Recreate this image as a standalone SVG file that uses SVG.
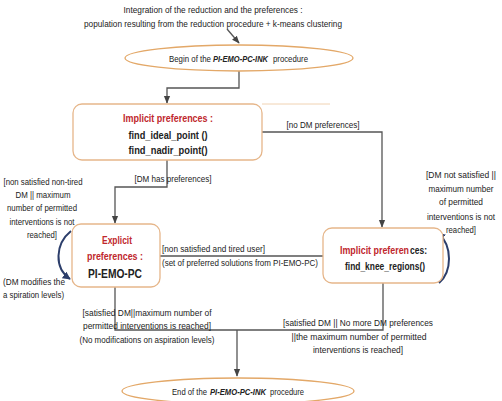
<svg xmlns="http://www.w3.org/2000/svg" width="502" height="401" viewBox="0 0 502 401">
<defs>
<style>
text{font-family:"Liberation Sans",Arial,sans-serif;fill:#222;}
.s{font-size:8.8px;}
.c{text-anchor:middle;}
.b{font-weight:bold;}
.i{font-style:italic;}
.r{fill:#c0272d;}
.box{fill:#fff;stroke:#e6b68a;stroke-width:1.3;}
.ell{fill:#fff;stroke:#e3a868;stroke-width:1.3;}
.ln{fill:none;stroke:#555;stroke-width:1.3;}
.cv{fill:none;stroke:#2c3e6b;stroke-width:2;}
</style>
<marker id="ah" viewBox="0 0 10 10" refX="9" refY="5" markerWidth="6" markerHeight="6" orient="auto"><path d="M0,1 L10,5 L0,9 z" fill="#444"/></marker>
<marker id="ahb" viewBox="0 0 10 10" refX="9" refY="5" markerWidth="4" markerHeight="4" orient="auto"><path d="M0,0 L10,5 L0,10 z" fill="#2c3e6b"/></marker>
</defs>
<rect width="502" height="401" fill="#fff"/>

<g id="intro">
<text class="s c" x="213" y="13" textLength="179" lengthAdjust="spacingAndGlyphs">Integration of the reduction and the preferences :</text>
<text class="s c" x="213" y="27" textLength="258" lengthAdjust="spacingAndGlyphs">population resulting from the reduction procedure + k-means clustering</text>
</g>

<g id="connectors">
<path class="ln" d="M227,29 L239,43" marker-end="url(#ah)"/>
<path class="ln" d="M239,71 V88 H167 V103" marker-end="url(#ah)"/>
<path class="ln" d="M262,132 H382 V227" marker-end="url(#ah)"/>
<path class="ln" d="M167,160 V187 H115 V223" marker-end="url(#ah)"/>
<path class="ln" d="M160,256 H323"/>
<path class="ln" d="M115,287 V330 H383 V283"/>
<path class="ln" d="M237,330 V376" marker-end="url(#ah)"/>
<path class="cv" d="M71,231 C55,244 54,268 70,279" marker-end="url(#ahb)"/>
<path class="cv" d="M439,283 C452,272 453,246 438,233" marker-end="url(#ahb)"/>
<line x1="262" y1="104" x2="330" y2="104" stroke="#f0d2b2" stroke-width="1"/>
</g>

<g id="labels">
<text class="s c" x="323" y="128" textLength="73" lengthAdjust="spacingAndGlyphs">[no DM preferences]</text>
<text class="s c" x="173" y="182" textLength="77" lengthAdjust="spacingAndGlyphs">[DM has preferences]</text>
<text class="s c" x="43" y="185" textLength="79" lengthAdjust="spacingAndGlyphs">[non satisfied non-tired</text>
<text class="s c" x="43" y="198" textLength="55" lengthAdjust="spacingAndGlyphs">DM || maximum</text>
<text class="s c" x="42" y="211" textLength="70" lengthAdjust="spacingAndGlyphs">number of permitted</text>
<text class="s c" x="42" y="225" textLength="65" lengthAdjust="spacingAndGlyphs">interventions is not</text>
<text class="s c" x="42" y="238" textLength="30" lengthAdjust="spacingAndGlyphs">reached]</text>
<text class="s" x="3" y="285" textLength="62" lengthAdjust="spacingAndGlyphs">(DM modifies the</text>
<text class="s" x="3" y="298" textLength="61" lengthAdjust="spacingAndGlyphs">a spiration levels)</text>
<text class="s" x="162" y="252" textLength="103" lengthAdjust="spacingAndGlyphs">[non satisfied and tired user]</text>
<text class="s" x="162" y="266" textLength="156" lengthAdjust="spacingAndGlyphs">(set of preferred solutions from PI-EMO-PC)</text>
<text class="s c" x="461" y="178" textLength="70" lengthAdjust="spacingAndGlyphs">[DM not satisfied ||</text>
<text class="s c" x="461" y="192" textLength="65" lengthAdjust="spacingAndGlyphs">maximum number</text>
<text class="s c" x="461" y="205" textLength="44" lengthAdjust="spacingAndGlyphs">of permitted</text>
<text class="s c" x="461" y="220" textLength="68" lengthAdjust="spacingAndGlyphs">interventions is not</text>
<text class="s c" x="461" y="233" textLength="30" lengthAdjust="spacingAndGlyphs">reached]</text>
<text class="s c" x="147" y="316" textLength="129" lengthAdjust="spacingAndGlyphs">[satisfied DM||maximum number of</text>
<text class="s c" x="147" y="329" textLength="128" lengthAdjust="spacingAndGlyphs">permitted interventions is reached]</text>
<text class="s c" x="147" y="343" textLength="135" lengthAdjust="spacingAndGlyphs">(No modifications on aspiration levels)</text>
<text class="s c" x="358" y="326" textLength="150" lengthAdjust="spacingAndGlyphs">[satisfied DM || No more DM preferences</text>
<text class="s c" x="359" y="340" textLength="135" lengthAdjust="spacingAndGlyphs">||the maximum number of permitted</text>
<text class="s c" x="358" y="353" textLength="90" lengthAdjust="spacingAndGlyphs">interventions is reached]</text>
</g>

<g id="begin">
<ellipse class="ell" cx="239" cy="58" rx="114" ry="13"/>
<text class="s" x="169" y="62" textLength="42" lengthAdjust="spacingAndGlyphs">Begin of the</text>
<text class="s b i" x="213" y="62" textLength="55" lengthAdjust="spacingAndGlyphs">PI-EMO-PC-INK</text>
<text class="s" x="273" y="62" textLength="35" lengthAdjust="spacingAndGlyphs">procedure</text>
</g>

<g id="implicit1">
<rect class="box" x="73" y="104" width="189" height="56" rx="9"/>
<text class="c b r" x="168" y="122" font-size="10.8" textLength="90" lengthAdjust="spacingAndGlyphs">Implicit preferences :</text>
<text class="c b" x="168" y="139" font-size="10.5" textLength="79" lengthAdjust="spacingAndGlyphs">find_ideal_point ()</text>
<text class="c b" x="168" y="154" font-size="10.5" textLength="79" lengthAdjust="spacingAndGlyphs">find_nadir_point()</text>
</g>

<g id="explicit">
<rect class="box" x="72" y="224" width="88" height="63" rx="9"/>
<text class="c b r" x="117" y="244" font-size="11.5" textLength="30" lengthAdjust="spacingAndGlyphs">Explicit</text>
<text class="c b r" x="115" y="260" font-size="11.5" textLength="56" lengthAdjust="spacingAndGlyphs">preferences :</text>
<text class="c b" x="115" y="278" font-size="13.5" textLength="54" lengthAdjust="spacingAndGlyphs">PI-EMO-PC</text>
</g>

<g id="implicit2">
<rect class="box" x="323" y="228" width="120" height="55" rx="9"/>
<text class="b r" x="340" y="254" font-size="10.8" textLength="69" lengthAdjust="spacingAndGlyphs">Implicit preferen</text>
<text class="b" x="410" y="254" font-size="10.8" textLength="17" lengthAdjust="spacingAndGlyphs">ces:</text>
<text class="c b" x="385" y="270" font-size="10.8" textLength="80" lengthAdjust="spacingAndGlyphs">find_knee_regions()</text>
</g>

<g id="end">
<ellipse class="ell" cx="238" cy="391" rx="116" ry="13"/>
<text class="s" x="172" y="395" textLength="35" lengthAdjust="spacingAndGlyphs">End of the</text>
<text class="s b i" x="210" y="395" textLength="56" lengthAdjust="spacingAndGlyphs">PI-EMO-PC-INK</text>
<text class="s" x="270" y="395" textLength="34" lengthAdjust="spacingAndGlyphs">procedure</text>
</g>
</svg>
